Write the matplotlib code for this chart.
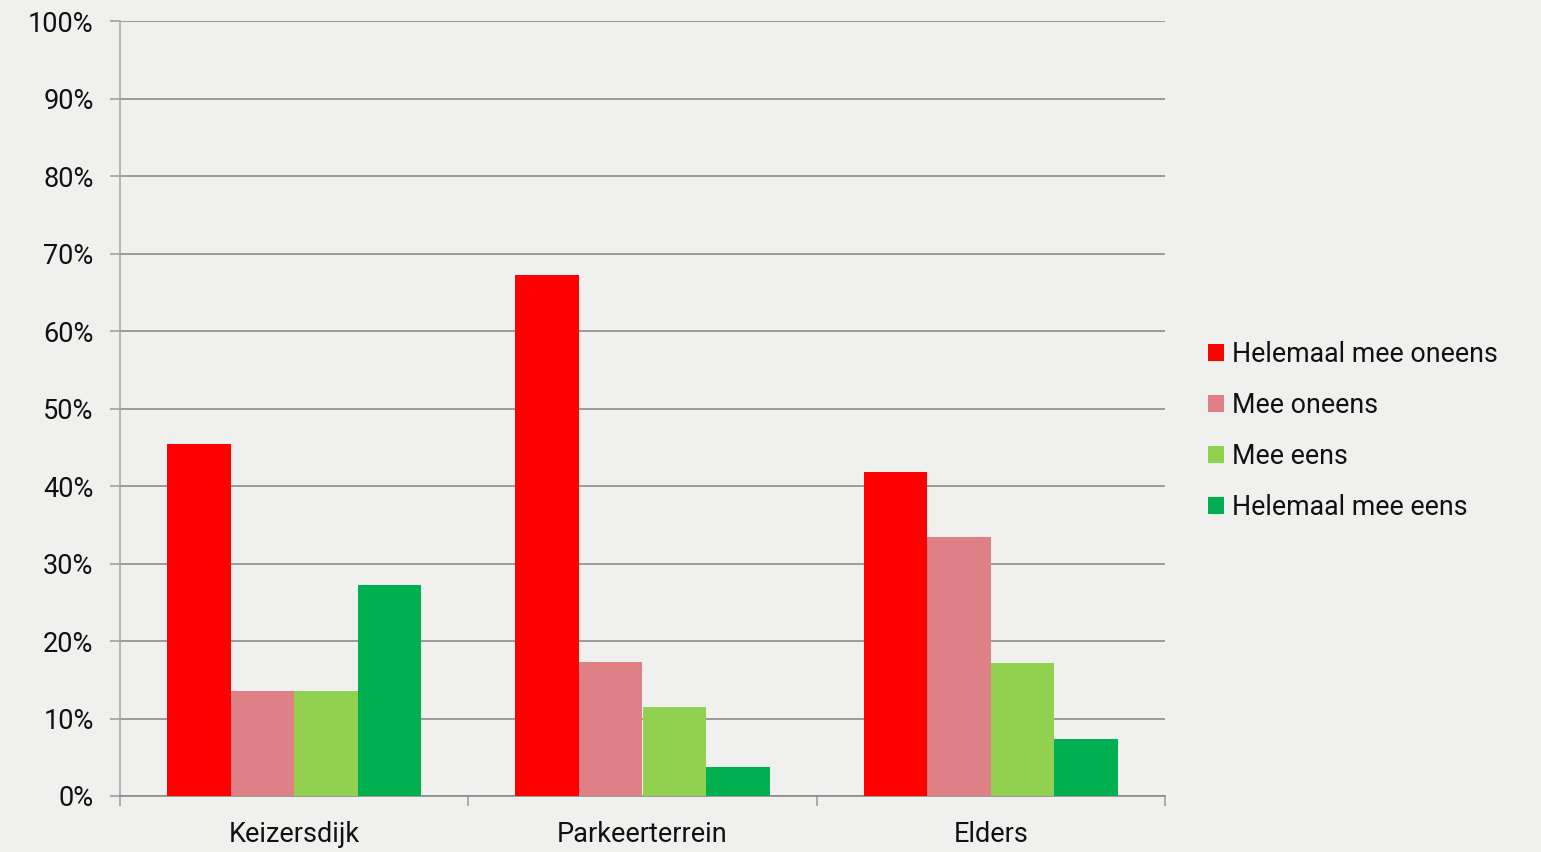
import matplotlib.pyplot as plt
import numpy as np

plt.rcParams['font.family'] = ['Roboto', 'DejaVu Sans']

locaties = ['Keizersdijk', 'Parkeerterrein', 'Elders']
antwoorden = ['Helemaal mee oneens', 'Mee oneens', 'Mee eens', 'Helemaal mee eens']
helemaal_oneens = [45.4, 67.2, 41.8]
oneens = [13.5, 17.3, 33.4]
eens = [13.5, 11.5, 17.2]
helemaal_eens = [27.2, 3.7, 7.4]
kleuren = ['#ff0000', '#df8086', '#92d050', '#00b050']

bg = '#f0f0ef'
fig = plt.figure(figsize=(15.41, 8.52), dpi=100, facecolor=bg)
ax = fig.add_axes([120 / 1541, 56 / 852, 1045 / 1541, 775 / 852], facecolor=bg)

x = np.arange(len(locaties))
w = 0.73 / 4
reeksen = [helemaal_oneens, oneens, eens, helemaal_eens]
for i, (vals, naam, kl) in enumerate(zip(reeksen, antwoorden, kleuren)):
    ax.bar(x + (i - 1.5) * w, vals, w, color=kl, label=naam, zorder=3)

ax.set_xlim(-0.5, 2.5)
ax.set_ylim(0, 100)
ax.set_yticks(range(0, 101, 10))
ax.set_yticklabels([f'{v}%' for v in range(0, 101, 10)], fontsize=19.5, color='#111111')
ax.yaxis.grid(True, color='#8c8c8c', linewidth=1.2, zorder=0)

ax.set_xticks([-0.5, 0.5, 1.5, 2.5])
ax.set_xticklabels([])
ax.set_xticks(x, minor=True)
ax.set_xticklabels(locaties, minor=True, fontsize=19.5, color='#111111')
ax.tick_params(axis='x', which='minor', length=0, pad=18)
ax.tick_params(axis='x', which='major', length=7, color='#a0a0a0', width=1.2)
ax.tick_params(axis='y', length=7, color='#a0a0a0', width=1.2, pad=12)

for s in ['top', 'right']:
    ax.spines[s].set_visible(False)
ax.spines['left'].set_color('#a8a8a8')
ax.spines['left'].set_linewidth(1.2)
ax.spines['bottom'].set_color('#8c8c8c')
ax.spines['bottom'].set_linewidth(1.2)

ax.legend(loc='center left', bbox_to_anchor=(1.018, 0.471), frameon=False,
          fontsize=19.25, handlelength=0.6, handleheight=0.6, handletextpad=0.3,
          labelspacing=0.89, labelcolor='#111111')

fig.savefig('out.png', dpi=100, facecolor=bg)
